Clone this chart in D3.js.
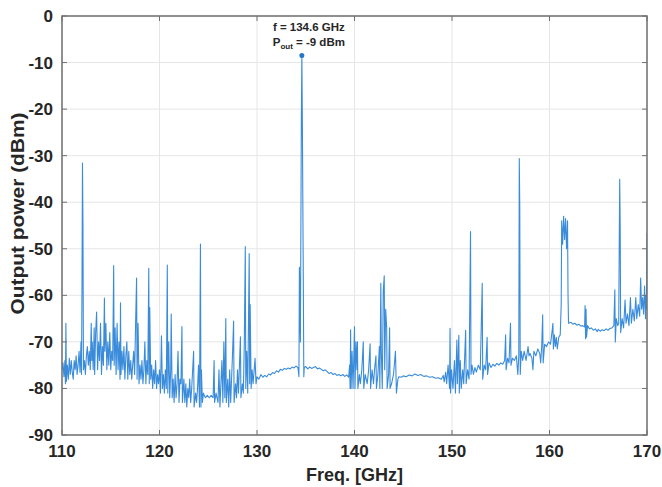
<!DOCTYPE html>
<html>
<head>
<meta charset="utf-8">
<script src="https://cdn.jsdelivr.net/npm/d3@7"></script>
<style>
  body { margin: 0; background: #fff; }
  text { font-family: Arial, "Liberation Sans", sans-serif; }
</style>
</head>
<body>
<svg id="chart"></svg>
<script>
const xTicks = [110, 120, 130, 140, 150, 160, 170];
const yTicks = [0, -10, -20, -30, -40, -50, -60, -70, -80, -90];

// spectrum, [freq GHz, power dBm]
const band110 = [
  [110.0,-76],[110.1,-74.5],[110.2,-77.5],[110.3,-74],[110.35,-79],[110.4,-66],[110.45,-78.5],[110.55,-75],
  [110.65,-78],[110.75,-73.5],[110.85,-77],[110.95,-74],[111.05,-76.5],[111.15,-78],[111.25,-74],[111.35,-76],
  [111.45,-73],[111.55,-77],[111.65,-75],[111.75,-72],[111.85,-76.5],[111.95,-70],[112.0,-77],[112.05,-58],
  [112.1,-31.6],[112.15,-45],[112.2,-76],[112.3,-74],[112.4,-77],[112.5,-73],[112.6,-71],[112.7,-75],
  [112.8,-72],[112.9,-76],[113.0,-66],[113.05,-74],[113.1,-70],[113.2,-76],[113.3,-67],[113.35,-77],
  [113.45,-68],[113.55,-63.6],[113.65,-76],[113.75,-70],[113.85,-74],[113.95,-66],[114.05,-77],[114.15,-71],
  [114.25,-75],[114.35,-60.6],[114.4,-72],[114.5,-66],[114.6,-76],[114.7,-70],[114.8,-75],[114.9,-68],
  [115.0,-76],[115.1,-72],[115.2,-74],[115.3,-53.6],[115.35,-75],[115.45,-67],[115.55,-77],[115.65,-66],
  [115.75,-76],[115.85,-70],[115.95,-78]
];
const band116 = [
  [116.0,-61.6],[116.05,-77],[116.15,-72],[116.25,-76],[116.35,-71],[116.45,-78],[116.55,-73],[116.65,-70],
  [116.75,-78],[116.85,-72],[116.95,-77],[117.05,-74],[117.15,-78],[117.25,-75],[117.35,-72],[117.45,-77],
  [117.55,-66],[117.65,-56.3],[117.7,-78],[117.8,-66],[117.9,-79],[118.0,-75],[118.1,-78],[118.2,-74],
  [118.3,-79],[118.4,-76],[118.5,-70],[118.6,-79],[118.7,-74],[118.8,-77],[118.9,-54.2],[118.95,-79],
  [119.0,-62.6],[119.1,-78],[119.2,-75],[119.3,-80],[119.4,-76],[119.5,-79],[119.6,-74],[119.7,-80],
  [119.8,-77],[119.9,-79],[120.0,-76],[120.1,-81],[120.2,-68.7],[120.3,-80],[120.4,-77],[120.5,-81],
  [120.6,-76],[120.7,-80],[120.8,-53.5],[120.85,-81],[120.95,-70],[121.05,-82],[121.15,-76],[121.2,-64],
  [121.3,-82],[121.4,-78],[121.5,-83],[121.6,-77],[121.7,-82],[121.8,-79],[121.9,-72],[122.0,-83],[122.1,-78]
];
const band122 = [
  [122.2,-79],[122.3,-66.7],[122.35,-83],[122.5,-78],[122.6,-83],[122.7,-79],[122.8,-84],[122.9,-80],
  [123.0,-82],[123.1,-78],[123.2,-83],[123.3,-80],[123.5,-72],[123.55,-84],[123.7,-81],[123.8,-83],
  [123.9,-80],[124.0,-75],[124.1,-84],[124.2,-49],[124.25,-84],[124.3,-76],[124.4,-83],[124.5,-81],
  [124.7,-82],[124.9,-81.5],[125.1,-82],[125.3,-81.5],[125.5,-82],[125.6,-74],[125.65,-83],[125.8,-81],
  [126.0,-83],[126.1,-76],[126.2,-84],[126.4,-74],[126.5,-83],[126.6,-70],[126.7,-82],[126.8,-65],
  [126.85,-83],[127.0,-78],[127.1,-84],[127.2,-76],[127.3,-83],[127.5,-72],[127.6,-65.5],[127.65,-83],
  [127.8,-79],[127.9,-82],[128.0,-76],[128.1,-81],[128.3,-68.9],[128.35,-82],[128.5,-79],[128.6,-81],
  [128.7,-70],[128.8,-49.5],[128.85,-80],[128.95,-72],[129.05,-81],[129.2,-51],[129.25,-79],[129.3,-62],
  [129.4,-80],[129.5,-76],[129.6,-79],[129.8,-73.5],[129.9,-79]
];
const band130 = [
  [130.0,-77.5],[130.2,-78],[130.4,-77],[130.6,-77.6],[130.8,-77.2],[131.0,-77.5],[131.2,-76.9],[131.4,-77.1],
  [131.6,-76.6],[131.8,-76.8],[132.0,-76.2],[132.2,-76.5],[132.4,-75.9],[132.6,-76.1],[132.8,-75.7],[133.0,-75.9],
  [133.2,-75.6],[133.4,-75.8],[133.6,-75.4],[133.8,-75.6],[134.0,-75.2],[134.2,-75.5],[134.3,-77.5],[134.35,-54],
  [134.45,-70],[134.55,-22],[134.6,-8.5],[134.65,-22],[134.75,-57],[134.8,-77.5],[134.85,-75.5],[135.0,-75.3],
  [135.2,-75.8],[135.4,-75.4],[135.6,-75.7],[135.8,-75.5],[136.0,-75.3],[136.2,-75.8],[136.4,-75.6],[136.6,-75.9],
  [136.8,-76.2],[137.0,-76.0],[137.2,-76.4],[137.4,-76.8],[137.6,-76.6],[137.8,-77.0],[138.0,-76.8],[138.2,-77.2],
  [138.4,-77.0],[138.6,-77.3],[138.8,-77.0],[139.0,-77.4],[139.2,-77.1],[139.4,-77.6]
];
const band139 = [
  [139.5,-75],[139.55,-80],[139.6,-67.4],[139.65,-80],[139.75,-72],[139.85,-80],[140.0,-66.7],[140.05,-80],
  [140.15,-70],[140.25,-76],[140.3,-70],[140.35,-80],[140.5,-77],[140.6,-79],[140.75,-76],[140.9,-70],
  [140.95,-80],[141.1,-77],[141.3,-79],[141.45,-76],[141.6,-70.4],[141.65,-80],[141.8,-76],[141.95,-79],
  [142.05,-76],[142.2,-73],[142.25,-80],[142.4,-77],[142.55,-71],[142.6,-80],[142.7,-57.4],[142.75,-72],
  [142.85,-80],[142.95,-59],[143.05,-55.8],[143.1,-76],[143.2,-63],[143.3,-67],[143.35,-80],[143.5,-77],
  [143.6,-67],[143.65,-80],[143.8,-79],[144.0,-77],[144.2,-72],[144.3,-81],[144.45,-78],[144.55,-77.5]
];
const band145 = [
  [144.8,-77.6],[145.0,-77.3],[145.3,-77.5],[145.6,-77.1],[145.9,-77.3],[146.2,-76.9],[146.5,-77.2],[146.8,-77.0],
  [147.1,-77.4],[147.4,-77.3],[147.7,-77.6],[148.0,-77.5],[148.3,-77.8],[148.6,-77.7],[148.9,-78.0],[149.1,-77.2],
  [149.2,-78.6],[149.35,-76.5],[149.45,-79],[149.6,-75],[149.75,-80],[149.8,-67.1],[149.85,-81],[149.95,-76],
  [150.1,-80],[150.25,-74],[150.35,-81],[150.5,-69.6],[150.55,-79],[150.7,-68.6],[150.75,-81],[150.85,-74],
  [150.95,-80],[151.1,-76],[151.2,-79],[151.4,-67.5],[151.45,-79],[151.6,-76],[151.75,-78],[151.9,-46.3],
  [151.95,-77],[152.05,-75],[152.2,-77],[152.35,-75.5],[152.5,-76.5],[152.7,-75],[152.9,-76],[153.1,-57.4],
  [153.15,-78],[153.3,-75],[153.45,-76],[153.6,-69],[153.65,-77]
];
const band154 = [
  [153.8,-74.5],[154.0,-75.5],[154.2,-74.8],[154.4,-75.2],[154.6,-74.6],[154.8,-75],[155.0,-74.5],[155.2,-74.8],
  [155.4,-74],[155.5,-68.5],[155.55,-76],[155.7,-73.5],[155.85,-74.5],[156.0,-66],[156.05,-75],[156.2,-73.5],
  [156.4,-74],[156.6,-73],[156.75,-77],[156.85,-73],[156.9,-30.6],[156.95,-41],[157.0,-77],[157.1,-72],
  [157.25,-74],[157.4,-72],[157.6,-74],[157.8,-71],[157.9,-73],[158.0,-72.5],[158.2,-73.5],[158.3,-76],
  [158.4,-72],[158.6,-73],[158.8,-71.5],[159.0,-72.5],[159.1,-74.5],[159.2,-71],[159.3,-64.2],[159.35,-74.5],
  [159.5,-70.5],[159.7,-71],[159.9,-70],[160.1,-70.5],[160.25,-68],[160.35,-66],[160.4,-71.5],[160.5,-68.5],
  [160.6,-71],[160.7,-69],[160.8,-71.5],[160.95,-69]
];
const band161 = [
  [161.1,-68.5],[161.2,-62],[161.25,-44],[161.35,-49],[161.45,-43],[161.55,-48],[161.65,-43.5],[161.75,-50],
  [161.85,-44],[161.9,-60],[161.95,-66],[162.2,-65.8],[162.4,-66.2],[162.6,-66],[162.8,-66.4],[163.0,-66.2],
  [163.2,-66.6],[163.4,-66.5],[163.6,-66.8],[163.65,-62.2],[163.7,-69.3],[163.75,-63],[163.8,-69],[163.9,-66.5],
  [164.1,-67.2],[164.3,-67],[164.5,-67.5],[164.7,-67.2],[164.9,-67.8],[165.0,-67.3],[165.2,-67.7],[165.4,-67.4],
  [165.6,-67.6],[165.8,-67.2],[166.0,-67.5],[166.2,-67.1],[166.4,-67],[166.6,-66.5],[166.7,-58.8],[166.75,-70],
  [166.85,-65],[167.0,-66.5],[167.1,-66],[167.2,-35.1],[167.25,-45],[167.3,-68],[167.45,-65],[167.6,-67],
  [167.75,-61],[167.85,-66],[168.0,-64],[168.15,-66.5],[168.3,-60.5],[168.4,-66],[168.55,-63],[168.7,-65.5],
  [168.85,-60.5],[168.95,-65],[169.1,-62],[169.25,-64.5],[169.35,-56.3],[169.45,-63],[169.55,-60.5],[169.65,-64],
  [169.75,-58],[169.85,-65],[169.9,-60],[169.95,-63],[170.0,-46.7]
];

const peakF = 134.6;
const peakP = -8.5;

const width = 662;
const height = 487;
const margin = { top: 16, right: 15, bottom: 52, left: 62 };
const w = width - margin.left - margin.right;
const h = height - margin.top - margin.bottom;

const svg = d3.select("#chart")
  .attr("width", width)
  .attr("height", height);

const x = d3.scaleLinear().domain([110, 170]).range([0, w]);
const y = d3.scaleLinear().domain([-90, 0]).range([h, 0]);

const g = svg.append("g")
  .attr("transform", `translate(${margin.left},${margin.top})`);

// grid
g.append("g").selectAll("line")
  .data(xTicks)
  .enter().append("line")
  .attr("x1", d => x(d)).attr("x2", d => x(d))
  .attr("y1", 0).attr("y2", h)
  .attr("stroke", "#e6e6e6");
g.append("g").selectAll("line")
  .data(yTicks)
  .enter().append("line")
  .attr("x1", 0).attr("x2", w)
  .attr("y1", d => y(d)).attr("y2", d => y(d))
  .attr("stroke", "#e6e6e6");

g.append("clipPath").attr("id", "clip")
  .append("rect").attr("width", w).attr("height", h);

const data = [].concat(band110, band116, band122, band130, band139, band145, band154, band161);

const line = d3.line()
  .x(d => x(d[0]))
  .y(d => y(d[1]));

const lineColor = "#3a8cdb";

g.append("path")
  .datum(data)
  .attr("clip-path", "url(#clip)")
  .attr("d", line)
  .attr("fill", "none")
  .attr("stroke", lineColor)
  .attr("stroke-width", 1.1)
  .attr("stroke-linejoin", "round");

g.append("circle")
  .attr("cx", x(peakF))
  .attr("cy", y(peakP))
  .attr("r", 2.5)
  .attr("fill", "#2676c8");

// box + inward ticks
const axisColor = "#707070";
g.append("rect")
  .attr("width", w).attr("height", h)
  .attr("fill", "none")
  .attr("stroke", axisColor)
  .attr("stroke-width", 1.5);

const tk = 5;
xTicks.forEach(t => {
  g.append("line").attr("x1", x(t)).attr("x2", x(t)).attr("y1", h).attr("y2", h - tk).attr("stroke", axisColor);
  g.append("line").attr("x1", x(t)).attr("x2", x(t)).attr("y1", 0).attr("y2", tk).attr("stroke", axisColor);
});
yTicks.forEach(t => {
  g.append("line").attr("x1", 0).attr("x2", tk).attr("y1", y(t)).attr("y2", y(t)).attr("stroke", axisColor);
  g.append("line").attr("x1", w).attr("x2", w - tk).attr("y1", y(t)).attr("y2", y(t)).attr("stroke", axisColor);
});

// tick labels
g.append("g").selectAll("text")
  .data(xTicks)
  .enter().append("text")
  .attr("x", d => x(d))
  .attr("y", h + 22)
  .attr("text-anchor", "middle")
  .attr("font-size", 17)
  .attr("font-weight", "bold")
  .attr("fill", "#262626")
  .text(d => d);

g.append("g").selectAll("text")
  .data(yTicks)
  .enter().append("text")
  .attr("x", -9)
  .attr("y", d => y(d))
  .attr("dy", "0.35em")
  .attr("text-anchor", "end")
  .attr("font-size", 17)
  .attr("font-weight", "bold")
  .attr("fill", "#262626")
  .text(d => d);

// axis titles
svg.append("text")
  .attr("x", margin.left + w / 2)
  .attr("y", 481)
  .attr("text-anchor", "middle")
  .attr("font-size", 18)
  .attr("font-weight", "bold")
  .attr("fill", "#262626")
  .text("Freq. [GHz]");

svg.append("text")
  .attr("transform", `translate(24,${margin.top + h / 2 - 12}) rotate(-90) scale(1.1,1)`)
  .attr("text-anchor", "middle")
  .attr("font-size", 19)
  .attr("font-weight", "bold")
  .attr("fill", "#262626")
  .text("Output power (dBm)");

// peak annotation
const ann = g.append("g")
  .attr("font-family", "Lato, 'Open Sans', sans-serif")
  .attr("font-weight", "bold")
  .attr("font-size", 11.5)
  .attr("fill", "#262626")
  .attr("text-anchor", "middle");
ann.append("text")
  .attr("x", x(peakF) + 7)
  .attr("y", 15)
  .text(`f = ${peakF} GHz`);
const t2 = ann.append("text")
  .attr("x", x(peakF) + 7)
  .attr("y", 30);
t2.append("tspan").text("P");
t2.append("tspan").attr("font-size", 8).attr("dy", 2.5).text("out");
t2.append("tspan").attr("dy", -2.5).text(" = -9 dBm");
</script>
</body>
</html>
